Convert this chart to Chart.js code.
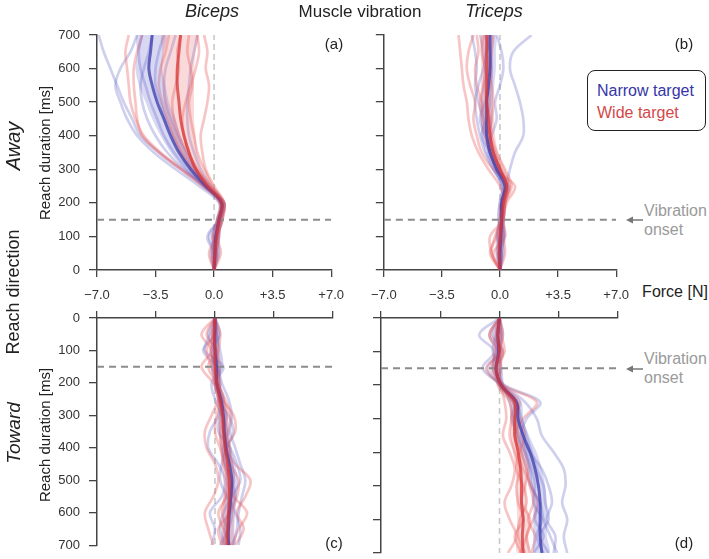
<!DOCTYPE html>
<html>
<head>
<meta charset="utf-8">
<script src="https://cdn.jsdelivr.net/npm/chart.js@4.4.1/dist/chart.umd.min.js"></script>
<style>
  html, body { margin: 0; padding: 0; background: #fff; overflow: hidden; }
  #wrap { position: relative; width: 709px; height: 559px; font-family: "Liberation Sans", Arial, sans-serif; color: #222; }
  canvas { position: absolute; }
  .lbl { position: absolute; white-space: nowrap; transform: translate(-50%, -50%); line-height: 1; }
  .rot { transform: translate(-50%, -50%) rotate(-90deg); }
  .it { font-style: italic; }
  .onset { position: absolute; color: #9a9a9a; font-size: 16px; line-height: 19px; }
  #legend { position: absolute; left: 587px; top: 70px; width: 117px; height: 59px; border: 1.5px solid #222; border-radius: 8px; background: #fff; font-size: 16px; }
</style>
</head>
<body>
<div id="wrap">
  <canvas id="pa" width="355" height="305" style="left:0;top:0"></canvas>
  <canvas id="pb" width="280" height="305" style="left:360px;top:0"></canvas>
  <canvas id="pc" width="355" height="262" style="left:0;top:300px"></canvas>
  <canvas id="pd" width="280" height="262" style="left:360px;top:300px"></canvas>

  <div class="lbl it" style="left:212px;top:11px;font-size:18px">Biceps</div>
  <div class="lbl" style="left:360px;top:11px;font-size:17px">Muscle vibration</div>
  <div class="lbl it" style="left:494px;top:11px;font-size:18px">Triceps</div>

  <div class="lbl rot it" style="left:13px;top:146px;font-size:20px">Away</div>
  <div class="lbl rot" style="left:13px;top:292px;font-size:18px">Reach direction</div>
  <div class="lbl rot it" style="left:13px;top:433px;font-size:19px">Toward</div>
  <div class="lbl rot" style="left:44px;top:153px;font-size:15px">Reach duration [ms]</div>
  <div class="lbl rot" style="left:44px;top:435px;font-size:15px">Reach duration [ms]</div>

  <div class="lbl" style="left:334px;top:43px;font-size:15px">(a)</div>
  <div class="lbl" style="left:684px;top:43px;font-size:15px">(b)</div>
  <div class="lbl" style="left:334px;top:542px;font-size:15px">(c)</div>
  <div class="lbl" style="left:684px;top:542px;font-size:15px">(d)</div>

  <div class="lbl" style="left:675px;top:292px;font-size:16px">Force [N]</div>

  <div id="legend">
    <div style="position:absolute;left:9px;top:11px;color:#3535a8">Narrow target</div>
    <div style="position:absolute;left:9px;top:33px;color:#d44848">Wide target</div>
  </div>

  <div class="onset" style="left:644px;top:201px">Vibration<br>onset</div>
  <div class="onset" style="left:644px;top:349px">Vibration<br>onset</div>
  <svg style="position:absolute;left:620px;top:210px" width="30" height="170">
    <g stroke="#777" stroke-width="1.5" fill="#777">
      <line x1="23" y1="10" x2="10" y2="10"/>
      <polygon points="6,10 13,6.5 13,13.5" stroke="none"/>
      <line x1="23" y1="159" x2="10" y2="159"/>
      <polygon points="6,159 13,155.5 13,162.5" stroke="none"/>
    </g>
  </svg>
</div>

<script>
// time samples (ms) shared by every trace
const TIMES = [0, 50, 100, 150, 200, 250, 300, 350, 400, 450, 500, 550, 600, 650, 700];
const FORCE_TICKS = [-7, -3.5, 0, 3.5, 7];
const ONSET_MS = 150;

// (a) biceps, reach away
const bicepsAwayNarrow = [
    [0, 0.2, -0.1, 0.2, 0.4, -0.6, -2.0, -3.3, -4.4, -4.9, -5.4, -5.8, -6.2, -6.6, -6.9],
    [0, -0.2, 0.1, 0.3, 0.3, -0.9, -2.3, -3.6, -4.6, -5.2, -5.6, -5.9, -5.6, -5.0, -4.6],
    [0, 0.1, -0.3, 0.3, 0.5, -0.6, -1.6, -2.4, -3.0, -3.4, -3.8, -4.1, -4.4, -4.5, -4.3],
    [0, -0.1, 0.2, 0.4, 0.6, -0.4, -1.3, -2.0, -2.5, -2.9, -3.2, -3.5, -3.5, -3.3, -3.0],
    [0, 0.1, 0.3, 0.2, 0.5, -0.2, -0.8, -1.2, -1.5, -1.6, -1.6, -1.5, -1.4, -1.2, -1.0],
    [0, 0.0, -0.4, 0.3, 0.6, -0.5, -1.8, -2.8, -3.5, -4.0, -4.3, -4.4, -4.2, -3.9, -3.7],
    [0, 0.3, 0.2, 0.5, 0.4, -0.4, -1.1, -1.7, -2.2, -2.6, -2.9, -3.0, -2.9, -2.6, -2.3]
];
const bicepsAwayNarrowMean = [0, 0.05, 0.1, 0.3, 0.45, -0.5, -1.4, -2.1, -2.6, -3.0, -3.4, -3.7, -3.9, -3.8, -3.7];
const bicepsAwayNarrowLo = [-0.1, -0.15, -0.15, 0.1, 0.25, -0.8, -1.8, -2.6, -3.2, -3.7, -4.1, -4.5, -4.7, -4.6, -4.6];
const bicepsAwayNarrowHi = [0.1, 0.25, 0.35, 0.5, 0.65, -0.2, -1.0, -1.6, -2.0, -2.3, -2.7, -2.9, -3.1, -3.0, -2.9];
const bicepsAwayWide = [
    [0, -0.3, 0.1, 0.4, 0.6, -0.6, -1.9, -3.2, -4.2, -4.7, -5.0, -5.1, -5.2, -5.3, -5.1],
    [0, 0.4, 0.2, 0.5, 0.6, 0.0, -0.5, -0.7, -0.8, -0.6, -0.4, -0.3, -0.5, -0.4, -0.6],
    [0, 0.2, -0.1, 0.3, 0.5, -0.1, -0.6, -1.0, -1.2, -1.4, -1.5, -1.3, -1.4, -1.6, -1.5],
    [0, -0.1, 0.1, 0.4, 0.5, -0.3, -1.2, -1.9, -2.4, -2.8, -3.1, -3.3, -3.2, -2.9, -2.7],
    [0, 0.1, 0.3, 0.3, 0.4, -0.3, -1.0, -1.5, -1.8, -1.9, -1.7, -1.4, -1.1, -0.9, -1.0],
    [0, 0.1, 0.0, 0.2, 0.4, -0.7, -2.0, -3.3, -4.3, -4.6, -4.7, -4.8, -4.8, -4.6, -4.3],
    [0, 0.0, 0.2, 0.5, 0.6, -0.2, -1.0, -1.6, -2.1, -2.4, -2.5, -2.3, -2.1, -2.2, -2.0]
];
const bicepsAwayWideMean = [0, 0.05, 0.15, 0.3, 0.45, -0.4, -1.1, -1.5, -1.8, -2.0, -2.1, -2.2, -2.2, -2.1, -2.0];
const bicepsAwayWideLo = [-0.1, -0.15, -0.05, 0.1, 0.25, -0.7, -1.5, -2.1, -2.5, -2.8, -3.0, -3.1, -3.2, -3.1, -3.1];
const bicepsAwayWideHi = [0.1, 0.25, 0.35, 0.5, 0.65, -0.1, -0.7, -1.0, -1.1, -1.2, -1.2, -1.2, -1.2, -1.1, -1.0];

// (b) triceps, reach away
const tricepsAwayNarrow = [
    [0, -0.1, 0.2, 0.1, 0.2, 0.2, -0.4, -0.9, -1.2, -1.4, -1.5, -1.3, -1.0, -0.8, -0.6],
    [0, 0.1, -0.2, 0.0, 0.1, 0.3, -0.1, -0.6, -1.1, -0.8, -0.6, -0.7, -0.9, -1.0, -1.2],
    [0, -0.2, 0.0, 0.2, 0.3, 0.5, -0.2, -0.7, -0.5, -0.2, -0.3, 0.0, 0.2, 0.1, -0.2],
    [0, 0.0, 0.3, 0.1, 0.1, 0.1, -0.3, -0.5, -0.8, -1.0, -1.3, -1.5, -1.4, -1.5, -1.7],
    [0, 0.2, 0.1, -0.1, 0.0, 0.4, 0.0, -0.4, -0.9, -1.2, -0.9, -0.6, -0.5, -0.6, -0.9],
    [0, 0.1, -0.1, 0.1, 0.3, 0.4, 0.6, 0.9, 1.4, 1.4, 1.2, 0.9, 0.6, 0.8, 1.9]
];
const tricepsAwayNarrowMean = [0, 0.0, 0.05, 0.1, 0.1, 0.3, -0.2, -0.6, -0.8, -0.8, -0.8, -0.7, -0.6, -0.6, -0.6];
const tricepsAwayNarrowLo = [-0.1, -0.2, -0.2, -0.1, -0.1, 0.05, -0.5, -0.9, -1.1, -1.15, -1.15, -1.05, -0.95, -0.95, -0.95];
const tricepsAwayNarrowHi = [0.1, 0.2, 0.3, 0.3, 0.3, 0.55, 0.1, -0.3, -0.5, -0.45, -0.45, -0.35, -0.25, -0.25, -0.25];
const tricepsAwayWide = [
    [0, -0.5, -0.6, 0.2, 0.3, 0.5, -0.1, -0.6, -0.9, -1.1, -1.2, -1.0, -0.9, -1.1, -1.0],
    [0, 0.3, 0.2, 0.1, 0.2, 0.6, 0.1, -0.3, -0.6, -0.5, -0.4, -0.5, -0.6, -0.5, -0.4],
    [0, -0.6, -0.2, 0.0, 0.1, 0.4, -0.1, -0.5, -0.7, -0.9, -1.1, -1.4, -1.5, -1.3, -1.4],
    [0, 0.0, 0.1, 0.2, 0.3, 0.7, 0.3, -0.2, -0.5, -0.6, -0.8, -0.9, -0.7, -0.8, -0.7],
    [0, -0.5, -0.3, 0.1, 0.3, 0.0, -0.7, -1.3, -1.7, -1.9, -2.0, -2.2, -2.3, -2.4, -2.5],
    [0, -0.4, 0.3, 0.2, 0.4, 0.9, -0.4, -1.1, -1.4, -1.6, -1.5, -1.8, -2.0, -1.9, -1.6]
];
const tricepsAwayWideMean = [0, -0.05, 0.0, 0.1, 0.2, 0.4, 0.0, -0.4, -0.6, -0.7, -0.8, -0.8, -0.8, -0.8, -0.8];
const tricepsAwayWideLo = [-0.1, -0.25, -0.25, -0.1, 0.0, 0.15, -0.3, -0.7, -0.9, -1.05, -1.15, -1.15, -1.15, -1.15, -1.15];
const tricepsAwayWideHi = [0.1, 0.15, 0.25, 0.3, 0.4, 0.65, 0.3, -0.1, -0.3, -0.35, -0.45, -0.45, -0.45, -0.45, -0.45];

// (c) biceps, reach toward
const bicepsTowardNarrow = [
    [0, -0.3, -0.6, 0.5, 0.0, 0.3, 0.2, -0.3, -0.4, 0.2, 0.6, 0.4, -0.3, 0.0, -0.2],
    [0, 0.2, 0.1, 0.2, 0.4, 0.8, 1.0, 0.9, 1.2, 1.5, 1.8, 1.6, 1.4, 1.3, 1.1],
    [0, -0.4, 0.0, -0.2, 0.1, 0.3, 0.6, 0.5, 0.8, 1.0, 1.1, 0.9, 1.2, 1.5, 1.4],
    [0, 0.1, 0.3, 0.4, -0.2, 0.0, 0.4, 0.7, 0.5, 0.6, 0.9, 1.2, 0.8, 0.6, 0.9],
    [0, 0.3, -0.2, 0.0, 0.2, 0.5, 0.3, 0.2, 0.9, 1.3, 1.5, 1.0, 0.5, 0.3, 0.6],
    [0, 0.0, -0.7, 0.1, 0.3, 0.2, 0.8, 1.1, 0.7, 0.4, 0.3, 0.7, 1.0, 0.8, 0.3]
];
const bicepsTowardNarrowMean = [0, 0.0, 0.0, 0.1, 0.1, 0.35, 0.5, 0.55, 0.65, 0.85, 1.0, 0.95, 0.85, 0.8, 0.8];
const bicepsTowardNarrowLo = [-0.1, -0.2, -0.25, -0.15, -0.1, 0.15, 0.25, 0.25, 0.35, 0.5, 0.65, 0.6, 0.5, 0.45, 0.45];
const bicepsTowardNarrowHi = [0.1, 0.2, 0.25, 0.35, 0.3, 0.55, 0.75, 0.85, 0.95, 1.2, 1.35, 1.3, 1.2, 1.15, 1.15];
const bicepsTowardWide = [
    [0, -0.8, -0.2, -0.8, -0.1, 0.4, 1.1, 1.2, 0.7, 1.2, 2.1, 1.8, 1.3, 1.7, 1.2],
    [0, 0.3, 0.2, 0.0, 0.3, 0.2, -0.2, -0.6, -0.5, 0.0, 0.2, -0.1, -0.6, -0.4, -0.1],
    [0, -0.2, 0.1, 0.3, 0.2, 0.5, 0.7, 0.6, 0.9, 0.8, 0.7, 1.1, 1.9, 1.4, 1.0],
    [0, 0.1, -0.3, 0.1, 0.0, 0.2, 0.4, 0.3, 0.4, 0.5, 0.8, 0.6, 0.4, 0.7, 0.5],
    [0, -0.5, 0.0, -0.4, 0.1, 0.6, 0.9, 0.8, 0.6, 0.9, 1.4, 1.3, 0.9, 0.2, 0.4],
    [0, -0.1, -0.5, -0.2, 0.2, 0.3, 0.1, 0.0, 0.3, 0.6, 1.0, 0.7, 0.2, 0.5, 0.9]
];
const bicepsTowardWideMean = [0, -0.05, 0.0, 0.0, 0.1, 0.3, 0.45, 0.5, 0.6, 0.75, 0.85, 0.85, 0.8, 0.75, 0.7];
const bicepsTowardWideLo = [-0.1, -0.25, -0.25, -0.25, -0.1, 0.1, 0.2, 0.2, 0.3, 0.4, 0.5, 0.5, 0.45, 0.4, 0.35];
const bicepsTowardWideHi = [0.1, 0.15, 0.25, 0.25, 0.3, 0.5, 0.7, 0.8, 0.9, 1.1, 1.2, 1.2, 1.15, 1.1, 1.05];

// (d) triceps, reach toward
const tricepsTowardNarrow = [
    [0, -1.2, -0.3, -1.0, 0.2, 1.5, 2.2, 2.5, 3.2, 3.8, 3.9, 3.7, 4.0, 3.8, 4.0],
    [0, 0.1, -0.2, -0.4, 0.3, 2.4, 1.6, 1.3, 1.8, 2.5, 2.9, 3.1, 2.8, 3.3, 3.2],
    [0, -0.4, 0.2, -0.2, 0.0, 0.8, 1.0, 1.4, 1.6, 1.9, 2.1, 2.0, 2.5, 2.2, 2.6],
    [0, 0.2, 0.0, 0.1, 0.2, 0.6, 0.8, 1.0, 1.5, 1.8, 1.9, 2.3, 2.1, 2.6, 2.0],
    [0, -0.2, -0.4, 0.0, 0.1, 1.0, 1.3, 1.6, 1.9, 2.2, 2.6, 2.7, 2.9, 2.4, 2.9],
    [0, -0.6, -0.1, -0.7, 0.0, 0.9, 0.7, 1.1, 1.3, 1.6, 1.8, 2.4, 2.6, 3.0, 3.4]
];
const tricepsTowardNarrowMean = [0, -0.1, -0.05, -0.2, 0.1, 1.0, 1.1, 1.4, 1.8, 2.1, 2.3, 2.4, 2.4, 2.4, 2.5];
const tricepsTowardNarrowLo = [-0.1, -0.35, -0.25, -0.45, -0.1, 0.7, 0.8, 1.05, 1.4, 1.7, 1.9, 2.0, 2.0, 2.0, 2.05];
const tricepsTowardNarrowHi = [0.1, 0.15, 0.15, 0.05, 0.3, 1.3, 1.4, 1.75, 2.2, 2.5, 2.7, 2.8, 2.8, 2.8, 2.95];
const tricepsTowardWide = [
    [0, 0.2, -0.1, -0.5, 0.2, 2.2, 1.4, 0.9, 1.3, 1.6, 1.8, 2.0, 1.7, 2.1, 1.9],
    [0, -0.5, 0.1, -0.8, 0.0, 0.3, 0.4, 0.2, 0.6, 0.9, 0.7, 0.3, 0.6, 1.0, 0.5],
    [0, -0.2, 0.2, 0.0, 0.1, 0.8, 1.0, 1.0, 1.1, 1.0, 1.4, 1.6, 1.2, 1.1, 1.5],
    [0, 0.0, -0.3, -0.3, 0.2, 1.2, 0.9, 1.2, 1.5, 1.7, 1.5, 1.3, 1.8, 1.6, 1.2],
    [0, -0.6, -0.1, 0.1, -0.1, 0.6, 0.7, 0.6, 0.9, 1.2, 1.0, 1.1, 1.4, 0.9, 1.3],
    [0, 0.1, 0.3, -0.2, 0.1, 1.0, 1.2, 1.5, 1.2, 1.4, 1.9, 2.2, 2.0, 1.6, 1.8]
];
const tricepsTowardWideMean = [0, -0.1, 0.0, -0.2, 0.1, 0.9, 0.9, 0.9, 1.1, 1.25, 1.3, 1.3, 1.4, 1.35, 1.4];
const tricepsTowardWideLo = [-0.1, -0.3, -0.2, -0.4, -0.1, 0.65, 0.65, 0.65, 0.8, 0.95, 1.0, 1.0, 1.05, 1.0, 1.05];
const tricepsTowardWideHi = [0.1, 0.1, 0.2, 0.0, 0.3, 1.15, 1.15, 1.15, 1.4, 1.55, 1.6, 1.6, 1.75, 1.7, 1.75];

const BLUE_LIGHT = 'rgba(95, 95, 200, 0.3)';
const RED_LIGHT = 'rgba(232, 95, 95, 0.36)';
const BLUE_BAND = 'rgba(100, 100, 205, 0.25)';
const RED_BAND = 'rgba(232, 105, 105, 0.25)';
const BLUE_DARK = 'rgba(60, 60, 170, 0.75)';
const RED_DARK = 'rgba(215, 55, 55, 0.75)';
const AXIS_COLOR = '#444';
const FONT = '"Liberation Sans", Arial, sans-serif';

function toPoints(vals) {
    return TIMES.map((t, i) => ({ x: vals[i], y: t }));
}

function trace(vals, color, width, order) {
    return {
        data: toPoints(vals), showLine: true, borderColor: color, borderWidth: width,
        pointRadius: 0, tension: 0.35, fill: false, order: order
    };
}

function band(lo, hi, color, order) {
    return {
        data: toPoints(lo).concat(toPoints(hi).reverse()), showLine: true,
        borderWidth: 0, borderColor: 'rgba(0,0,0,0)', backgroundColor: color,
        pointRadius: 0, tension: 0.3, fill: 'shape', order: order
    };
}

function refLine(points, color, width, dash, order) {
    return {
        data: points, showLine: true, borderColor: color, borderWidth: width,
        borderDash: dash, pointRadius: 0, tension: 0, fill: false, order: order
    };
}

function panelSets(narrow, nMean, nLo, nHi, wide, wMean, wLo, wHi) {
    const sets = [];
    sets.push(refLine([{ x: 0, y: 0 }, { x: 0, y: 700 }], '#c9c9c9', 1.6, [6, 4], 30));
    narrow.forEach(v => sets.push(trace(v, BLUE_LIGHT, 2.7, 12)));
    wide.forEach(v => sets.push(trace(v, RED_LIGHT, 2.7, 11)));
    sets.push(band(nLo, nHi, BLUE_BAND, 7));
    sets.push(band(wLo, wHi, RED_BAND, 6));
    sets.push(refLine([{ x: FORCE_TICKS[0], y: ONSET_MS }, { x: FORCE_TICKS[4], y: ONSET_MS }], '#8c8c8c', 2, [7, 5], 5));
    sets.push(trace(nMean, BLUE_DARK, 3, 2));
    sets.push(trace(wMean, RED_DARK, 3, 1));
    return sets;
}

function forceLabel(v) {
    if (v === 0) return '0.0';
    return (v > 0 ? '+' : '\u2212') + Math.abs(v).toFixed(1);
}

function makePanel(id, datasets, opts) {
    const tickGrid = { drawOnChartArea: false, drawTicks: true, color: AXIS_COLOR, lineWidth: 1.3 };
    return new Chart(document.getElementById(id), {
        type: 'scatter',
        data: { datasets: datasets },
        options: {
            responsive: false,
            animation: false,
            layout: { padding: opts.padding },
            plugins: { legend: { display: false }, tooltip: { enabled: false } },
            scales: {
                x: {
                    type: 'linear', min: -7, max: 7,
                    position: opts.bottom ? 'top' : 'bottom',
                    afterBuildTicks: s => { s.ticks = FORCE_TICKS.map(v => ({ value: v })); },
                    afterFit: s => { s.height = opts.bottom ? 18 : 35; },
                    grid: Object.assign({ tickLength: 7 }, tickGrid),
                    border: { color: AXIS_COLOR, width: 1.5 },
                    ticks: {
                        display: !opts.bottom, padding: 11, color: '#333', maxRotation: 0,
                        font: { family: FONT, size: 13 }, callback: forceLabel
                    }
                },
                y: {
                    type: 'linear', min: 0, max: 700, reverse: !!opts.bottom,
                    afterFit: s => { s.width = opts.yWidth; },
                    grid: Object.assign({ tickLength: 8 }, tickGrid),
                    border: { color: AXIS_COLOR, width: 1.5 },
                    ticks: {
                        display: opts.yLabels, stepSize: 100, padding: 9, color: '#333',
                        font: { family: FONT, size: 13 }
                    }
                }
            }
        }
    });
}

makePanel('pa', panelSets(bicepsAwayNarrow, bicepsAwayNarrowMean, bicepsAwayNarrowLo, bicepsAwayNarrowHi,
    bicepsAwayWide, bicepsAwayWideMean, bicepsAwayWideLo, bicepsAwayWideHi),
    { padding: { left: 0, top: 35, right: 22, bottom: 0 }, yWidth: 97, yLabels: true, bottom: false });
makePanel('pb', panelSets(tricepsAwayNarrow, tricepsAwayNarrowMean, tricepsAwayNarrowLo, tricepsAwayNarrowHi,
    tricepsAwayWide, tricepsAwayWideMean, tricepsAwayWideLo, tricepsAwayWideHi),
    { padding: { left: 0, top: 35, right: 22, bottom: 0 }, yWidth: 21, yLabels: false, bottom: false });
makePanel('pc', panelSets(bicepsTowardNarrow, bicepsTowardNarrowMean, bicepsTowardNarrowLo, bicepsTowardNarrowHi,
    bicepsTowardWide, bicepsTowardWideMean, bicepsTowardWideLo, bicepsTowardWideHi),
    { padding: { left: 0, top: 0, right: 22, bottom: 9 }, yWidth: 97, yLabels: true, bottom: true });
makePanel('pd', panelSets(tricepsTowardNarrow, tricepsTowardNarrowMean, tricepsTowardNarrowLo, tricepsTowardNarrowHi,
    tricepsTowardWide, tricepsTowardWideMean, tricepsTowardWideLo, tricepsTowardWideHi),
    { padding: { left: 0, top: 0, right: 22, bottom: 9 }, yWidth: 21, yLabels: false, bottom: true });
</script>
</body>
</html>
